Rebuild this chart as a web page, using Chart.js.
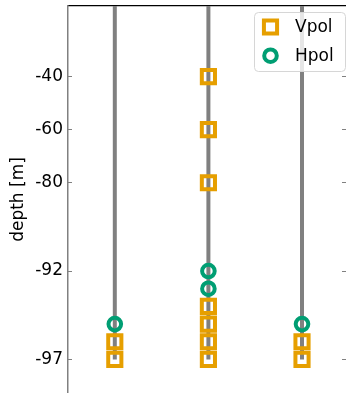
<!DOCTYPE html>
<html lang="en">
<head>
<meta charset="UTF-8">
<title>depth</title>
<script src="https://cdn.jsdelivr.net/npm/chart.js"></script>
<style>
  html, body { margin: 0; padding: 0; background: #fff; }
</style>
</head>
<body>
<canvas id="grafico" width="346" height="393"></canvas>
<script>
// strings (x = string index)
const strings = [0, 1, 2];
const stringTop = 0;      // surface end of the string [m]
const stringBottom = -97; // deepest point [m]

// antenna depths per string [m]
const vpolDepths = [
    [-96, -97],
    [-40, -60, -80, -94, -95, -96, -97],
    [-96, -97]
];
const hpolDepths = [
    [-95],
    [-92, -93],
    [-95]
];

// depth axis: labelled ticks and their slot on the stretched axis
const tickDepths = [-40, -60, -80, -92, -97];
const tickSlots = [0, 3, 6, 11, 16];

// depth -> slot on the axis (piecewise between labelled ticks)
function slot(d) {
    for (let i = 0; i < tickDepths.length - 1; i++) {
        const a = tickDepths[i], b = tickDepths[i + 1];
        if (d >= b || i === tickDepths.length - 2) {
            return tickSlots[i] + (d - a) / (b - a) * (tickSlots[i + 1] - tickSlots[i]);
        }
    }
}

function pontos(lista) {
    let out = [];
    lista.forEach((deps, s) => deps.forEach(d => out.push({ x: strings[s], y: slot(d) })));
    return out;
}

let datasets = [{
    label: 'Vpol',
    data: pontos(vpolDepths),
    pointStyle: 'rect',
    pointRadius: 9.3,
    pointBorderWidth: 4,
    borderColor: '#E69F00',
    backgroundColor: 'rgba(0,0,0,0)',
    order: 1
}, {
    label: 'Hpol',
    data: pontos(hpolDepths),
    pointStyle: 'circle',
    pointRadius: 6.3,
    pointBorderWidth: 4,
    borderColor: '#009E73',
    backgroundColor: 'rgba(0,0,0,0)',
    order: 1
}];

strings.forEach(s => {
    datasets.push({
        data: [{ x: s, y: slot(stringTop) }, { x: s, y: slot(stringBottom) }],
        showLine: true,
        borderColor: '#808080',
        borderWidth: 4,
        pointRadius: 0,
        order: 2
    });
});

// legend box drawn over the strings, like the original
const legendBox = {
    id: 'legendBox',
    afterDatasetsDraw(chart) {
        const ctx = chart.ctx, a = chart.chartArea;
        const w = 91, h = 59, x = a.right - 1 - w, y = a.top + 6;
        ctx.save();
        ctx.beginPath();
        ctx.roundRect(x + 0.5, y + 0.5, w, h, 4);
        ctx.fillStyle = 'rgba(255,255,255,0.8)';
        ctx.fill();
        ctx.strokeStyle = '#d6d6d6';
        ctx.lineWidth = 1;
        ctx.stroke();
        const rows = [y + 15, y + 43.7];
        chart.data.datasets.slice(0, 2).forEach((ds, i) => {
            const mx = x + 16.5, my = rows[i];
            ctx.strokeStyle = ds.borderColor;
            ctx.lineWidth = ds.pointBorderWidth;
            ctx.beginPath();
            if (ds.pointStyle === 'rect') {
                const half = ds.pointRadius * Math.SQRT1_2;
                ctx.rect(mx - half, my - half, 2 * half, 2 * half);
            } else {
                ctx.arc(mx, my, ds.pointRadius, 0, Math.PI * 2);
            }
            ctx.stroke();
            ctx.fillStyle = '#000';
            ctx.font = '17px "DejaVu Sans"';
            ctx.textBaseline = 'middle';
            ctx.fillText(ds.label, x + 41, my + 1);
        });
        ctx.restore();
    }
};

const ticksDeProfundidade = s => { s.ticks = tickSlots.map(v => ({ value: v })); };
const semMargem = s => { s.paddingTop = 0; s.paddingBottom = 0; s.paddingLeft = 0; s.paddingRight = 0; };

const config = {
    type: 'scatter',
    data: { datasets: datasets },
    plugins: [legendBox],
    options: {
        responsive: false,
        animation: false,
        layout: { autoPadding: false, padding: { top: 6, left: 0, right: 0, bottom: 0 } },
        plugins: { legend: { display: false }, tooltip: { enabled: false } },
        scales: {
            x: {
                type: 'linear',
                position: 'top',
                min: -0.5,
                max: 2.47,
                ticks: { display: false },
                grid: { display: false },
                border: { display: true, color: '#000', width: 1.2 },
                afterFit: s => { s.height = 0; semMargem(s); }
            },
            y: {
                type: 'linear',
                reverse: true,
                min: -4,
                max: 17.9,
                afterBuildTicks: ticksDeProfundidade,
                ticks: {
                    color: '#000',
                    font: { family: 'DejaVu Sans', size: 17 },
                    padding: 9,
                    callback: v => String(tickDepths[tickSlots.indexOf(v)])
                },
                grid: { drawOnChartArea: false, tickLength: -4, color: '#808080' },
                border: { color: '#808080', width: 1.5 },
                title: {
                    display: true,
                    text: 'depth [m]',
                    color: '#000',
                    font: { family: 'DejaVu Sans', size: 17 },
                    padding: { top: 8, bottom: 0 }
                },
                afterFit: s => { s.width = 68; semMargem(s); }
            },
            y2: {
                type: 'linear',
                position: 'right',
                reverse: true,
                min: -4,
                max: 17.9,
                afterBuildTicks: ticksDeProfundidade,
                ticks: { display: false },
                grid: { drawOnChartArea: false, tickLength: -4, color: '#808080' },
                border: { display: false },
                afterFit: s => { s.width = 0; semMargem(s); }
            }
        }
    }
};

let myChart = new Chart(document.getElementById('grafico'), config);
</script>
</body>
</html>
